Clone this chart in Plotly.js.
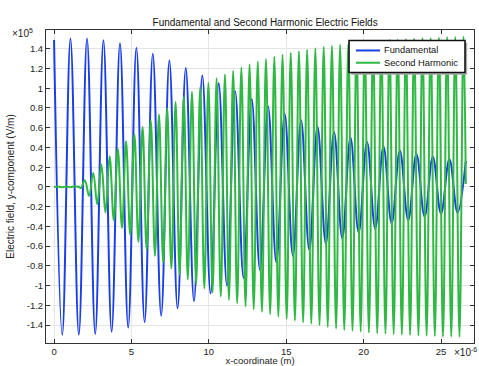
<!DOCTYPE html>
<html>
<head>
<meta charset="utf-8">
<script src="https://cdn.plot.ly/plotly-3.0.1.min.js"></script>
<style>html,body{margin:0;padding:0;background:#fff;}#chart{width:479px;height:366px;}</style>
</head>
<body>
<div id="chart"></div>
<script>
// x in units of 1e-6 m, field in units of 1e5 V/m
const fundPeakX = [0, 1.06, 2.13, 3.19, 4.26, 5.32, 6.38, 7.45, 8.51, 9.58, 10.64, 11.70, 12.77, 13.83, 14.90, 15.96, 17.02, 18.09, 19.15, 20.22, 21.28, 22.34, 23.41, 24.47, 25.54, 26.6];
const fundPeakY = [1.49, 1.505, 1.505, 1.485, 1.455, 1.41, 1.35, 1.28, 1.205, 1.13, 1.05, 0.97, 0.89, 0.815, 0.74, 0.675, 0.61, 0.555, 0.50, 0.455, 0.41, 0.37, 0.335, 0.305, 0.28, 0.265];
const fundTroughX = [0.53, 1.60, 2.66, 3.72, 4.79, 5.85, 6.92, 7.98, 9.04, 10.11, 11.17, 12.24, 13.30, 14.36, 15.43, 16.49, 17.56, 18.62, 19.68, 20.75, 21.81, 22.88, 23.94, 25.00, 26.07];
const fundTroughY = [-1.497, -1.497, -1.49, -1.467, -1.426, -1.37, -1.305, -1.23, -1.156, -1.08, -1.00, -0.92, -0.84, -0.765, -0.698, -0.637, -0.573, -0.519, -0.462, -0.421, -0.37, -0.337, -0.30, -0.27, -0.26];

const shgStartX = [0, 0.26, 0.53, 0.80, 1.06, 1.33, 1.60, 1.73];
const shgStartY = [0, 0.004, -0.004, 0.005, -0.003, 0.006, 0.0, -0.012];
const shgPeakX = [1.99, 2.53, 3.06, 3.59, 4.12, 4.65, 5.19, 5.72, 6.25, 6.78, 7.31, 7.85, 8.38, 8.91, 9.44, 9.97, 10.50, 11.04, 11.57, 12.10, 12.63, 13.16, 13.69, 14.23, 14.76, 15.29, 15.82, 16.35, 16.88, 17.42, 17.95, 18.48, 19.01, 19.54, 20.07, 20.61, 21.14, 21.67, 22.20, 22.73, 23.26, 23.80, 24.33, 24.86, 25.39, 25.92, 26.45];
const shgPeakY = [0.068, 0.142, 0.227, 0.31, 0.388, 0.462, 0.533, 0.607, 0.675, 0.735, 0.80, 0.86, 0.915, 0.965, 1.01, 1.055, 1.10, 1.14, 1.175, 1.21, 1.24, 1.27, 1.295, 1.32, 1.34, 1.36, 1.375, 1.39, 1.405, 1.42, 1.43, 1.44, 1.45, 1.46, 1.47, 1.475, 1.48, 1.49, 1.495, 1.50, 1.505, 1.51, 1.51, 1.515, 1.52, 1.52, 1.525];
const shgTroughX = [2.26, 2.79, 3.32, 3.86, 4.39, 4.92, 5.45, 5.98, 6.52, 7.05, 7.58, 8.11, 8.64, 9.18, 9.71, 10.24, 10.77, 11.30, 11.83, 12.37, 12.90, 13.43, 13.96, 14.49, 15.03, 15.56, 16.09, 16.62, 17.15, 17.68, 18.22, 18.75, 19.28, 19.81, 20.34, 20.88, 21.41, 21.94, 22.47, 23.00, 23.54, 24.07, 24.60, 25.13, 25.66, 26.19];
const shgTroughY = [-0.09, -0.175, -0.26, -0.337, -0.415, -0.485, -0.556, -0.633, -0.698, -0.765, -0.826, -0.885, -0.937, -0.985, -1.03, -1.07, -1.11, -1.145, -1.18, -1.21, -1.24, -1.265, -1.29, -1.315, -1.338, -1.355, -1.372, -1.385, -1.40, -1.418, -1.435, -1.45, -1.458, -1.466, -1.475, -1.483, -1.488, -1.493, -1.497, -1.50, -1.505, -1.508, -1.512, -1.517, -1.518, -1.52];
const shgEndX = [26.6];
const shgEndY = [0.03];

const seriesNames = ['Fundamental', 'Second Harmonic'];
const seriesColors = ['#1b3fe6', '#2fb843'];

const yTickVals = [-1.4, -1.2, -1, -0.8, -0.6, -0.4, -0.2, 0, 0.2, 0.4, 0.6, 0.8, 1, 1.2, 1.4];
const yTickText = ['-1.4', '-1.2', '-1', '-0.8', '-0.6', '-0.4', '-0.2', '0', '0.2', '0.4', '0.6', '0.8', '1', '1.2', '1.4'];
const xTickVals = [0, 5, 10, 15, 20, 25];
const xTickText = ['0', '5', '10', '15', '20', '25'];

function merge(groups) {
  const pts = [];
  groups.forEach(g => g[0].forEach((x, i) => pts.push([x, g[1][i]])));
  pts.sort((a, b) => a[0] - b[0]);
  return {x: pts.map(p => p[0]), y: pts.map(p => p[1])};
}
const fund = merge([[fundPeakX, fundPeakY], [fundTroughX, fundTroughY]]);
const shg = merge([[shgStartX, shgStartY], [shgPeakX, shgPeakY], [shgTroughX, shgTroughY], [shgEndX, shgEndY]]);

const FONT = 'Liberation Sans, Arial, sans-serif';
const traces = [
  {x: fund.x, y: fund.y, mode: 'lines', name: seriesNames[0],
   line: {color: seriesColors[0], width: 2, shape: 'spline', smoothing: 1.1, simplify: false}},
  {x: shg.x, y: shg.y, mode: 'lines', name: seriesNames[1],
   line: {color: seriesColors[1], width: 2, shape: 'spline', smoothing: 1.1, simplify: false}}
];

const axisCommon = {
  showline: true, linecolor: '#333', linewidth: 1, mirror: 'ticks',
  ticks: 'inside', ticklen: 4, tickcolor: '#333', tickwidth: 1,
  showgrid: true, gridcolor: '#e4e4e4', gridwidth: 1, zeroline: false,
  tickfont: {family: FONT, size: 9.5, color: '#222'}
};

// hand-drawn legend (paper coordinates)
const LX0 = 0.708, LX1 = 0.979, LY0 = 0.8644, LY1 = 0.9665;
const legendRowsY = [0.9346, 0.8954];
const sampleX0 = 0.7243, sampleX1 = 0.7804, textX = 0.785;
const shapes = [
  {type: 'rect', xref: 'paper', yref: 'paper', x0: LX0 + 0.005, x1: LX1 + 0.005, y0: LY0 - 0.007, y1: LY1 - 0.007,
   fillcolor: '#aaaaaa', line: {width: 0}, layer: 'above'},
  {type: 'rect', xref: 'paper', yref: 'paper', x0: LX0, x1: LX1, y0: LY0, y1: LY1,
   fillcolor: '#ffffff', line: {color: '#111', width: 1.6}, layer: 'above'}
];
const annotations = [
  {text: '×10<sup>5</sup>', xref: 'paper', yref: 'paper', x: -0.084, y: 0.99, xanchor: 'left', yanchor: 'middle',
   showarrow: false, font: {family: FONT, size: 10, color: '#222'}},
  {text: '×10<sup>-6</sup>', xref: 'paper', yref: 'paper', x: 0.949, y: -0.029, xanchor: 'left', yanchor: 'middle',
   showarrow: false, font: {family: FONT, size: 10, color: '#222'}}
];
seriesNames.forEach((nm, i) => {
  shapes.push({type: 'line', xref: 'paper', yref: 'paper', x0: sampleX0, x1: sampleX1, y0: legendRowsY[i], y1: legendRowsY[i],
               line: {color: seriesColors[i], width: 2}, layer: 'above'});
  annotations.push({text: nm, xref: 'paper', yref: 'paper', x: textX, y: legendRowsY[i], xanchor: 'left', yanchor: 'middle',
                    showarrow: false, font: {family: FONT, size: 9.3, color: '#111'}});
});

const layout = {
  width: 479, height: 366,
  margin: {l: 46, r: 5, t: 30, b: 23},
  paper_bgcolor: '#fff', plot_bgcolor: '#fff',
  showlegend: false,
  title: {text: 'Fundamental and Second Harmonic Electric Fields', font: {family: FONT, size: 10, color: '#111'},
          x: 0.512, xref: 'paper', xanchor: 'center', y: 1, yref: 'paper', yanchor: 'bottom', pad: {b: 4}},
  xaxis: Object.assign({}, axisCommon, {range: [-0.52, 27.13], tickvals: xTickVals, ticktext: xTickText,
          title: {text: 'x-coordinate (m)', font: {family: FONT, size: 9.5, color: '#222'}, standoff: 5}}),
  yaxis: Object.assign({}, axisCommon, {range: [-1.581, 1.59], tickvals: yTickVals, ticktext: yTickText,
          title: {text: 'Electric field, y-component (V/m)', font: {family: FONT, size: 10, color: '#222'}, standoff: 10}}),
  shapes: shapes,
  annotations: annotations
};

Plotly.newPlot('chart', traces, layout, {displayModeBar: false, staticPlot: true});
</script>
</body>
</html>
